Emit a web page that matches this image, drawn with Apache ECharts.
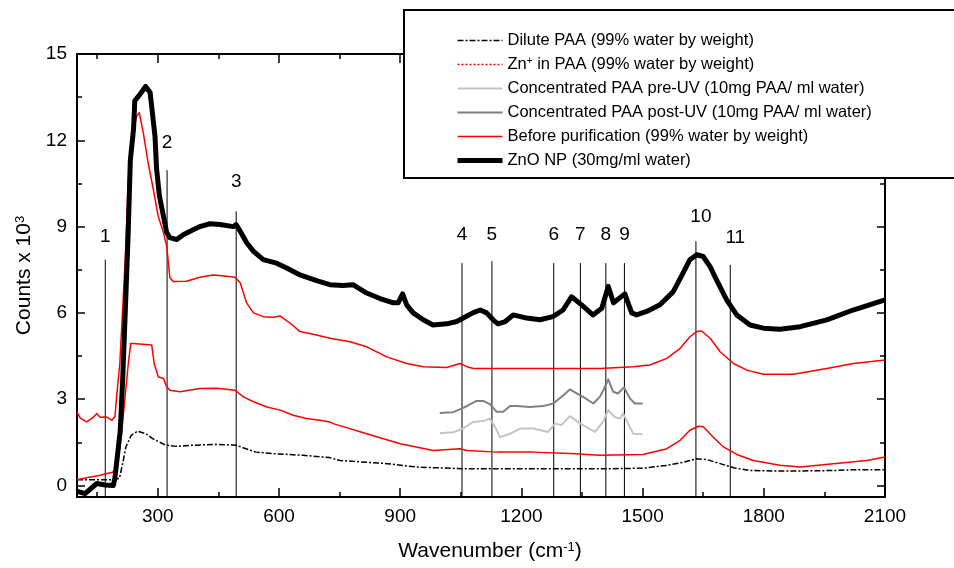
<!DOCTYPE html>
<html>
<head>
<meta charset="utf-8">
<script src="https://cdn.jsdelivr.net/npm/echarts@6/dist/echarts.min.js"></script>
<style>html,body{margin:0;padding:0;background:#fff}#c{width:954px;height:568px}</style>
</head>
<body>
<div id="c"></div>
<script>
// ---- data ----
const xMin = 100, xMax = 2100, yMin = -0.4, yMax = 15;
const xMajorTicks = [300, 600, 900, 1200, 1500, 1800, 2100];
const xMinorTicks = [150, 450, 750, 1050, 1350, 1650, 1950];
const yMajorTicks = [0, 3, 6, 9, 12, 15];
const yMinorTicks = [1.5, 4.5, 7.5, 10.5, 13.5];

const seriesNames = [
  'Dilute PAA (99% water by weight)',
  'Zn+ in PAA (99% water by weight)',
  'Concentrated PAA pre-UV (10mg PAA/ ml water)',
  'Concentrated PAA post-UV (10mg PAA/ ml water)',
  'Before purification (99% water by weight)',
  'ZnO NP (30mg/ml water)'
];

const diluteX = [100,188,205,213,221,234,250,271,287,304,320,345,386,444,494,518,543,593,659,725,751,867,941,1065,1229,1395,1501,1560,1601,1634,1659,1692,1725,1766,1848,1972,2022,2100];
const diluteY = [0.2,0.2,0.25,0.76,1.34,1.74,1.89,1.8,1.63,1.51,1.4,1.36,1.4,1.43,1.4,1.28,1.16,1.1,1.05,0.97,0.87,0.76,0.64,0.58,0.58,0.58,0.6,0.7,0.81,0.93,0.9,0.76,0.62,0.52,0.5,0.52,0.55,0.55];

const znX = [100,130,155,172,188,200,211,219,227,233,239,285,291,301,314,322,330,355,404,446,491,512,537,570,603,635,668,701,726,734,817,900,982,1048,1065,1139,1229,1337,1362,1395,1501,1560,1593,1617,1638,1650,1675,1700,1733,1774,1840,1890,1972,2055,2100];
const znY = [0.2,0.29,0.35,0.41,0.46,0.64,1.92,3.08,4.24,4.94,4.94,4.88,4.24,3.78,3.72,3.43,3.31,3.26,3.37,3.38,3.31,3.08,2.91,2.73,2.62,2.44,2.33,2.27,2.21,2.15,1.8,1.45,1.22,1.28,1.22,1.16,1.16,1.1,1.08,1.05,1.08,1.28,1.57,1.92,2.06,2.04,1.68,1.34,1.08,0.87,0.7,0.64,0.76,0.87,0.99];

const preX = [998,1031,1056,1081,1106,1122,1135,1147,1172,1197,1229,1266,1283,1299,1320,1340,1361,1382,1402,1415,1431,1444,1452,1464,1477,1500];
const preY = [1.82,1.85,1.98,2.21,2.24,2.33,2.03,1.68,1.8,1.98,1.98,1.86,2.15,2.1,2.41,2.21,2.03,1.86,2.21,2.62,2.38,2.33,2.5,2.15,1.8,1.78];

const postX = [998,1031,1052,1069,1089,1106,1122,1139,1155,1172,1188,1221,1254,1279,1304,1320,1337,1353,1378,1394,1404,1415,1427,1439,1454,1469,1481,1500];
const postY = [2.52,2.55,2.67,2.79,2.94,2.94,2.83,2.56,2.56,2.76,2.76,2.73,2.76,2.85,3.14,3.34,3.2,3.08,2.85,3.08,3.34,3.69,3.26,3.2,3.41,3.02,2.85,2.85];

const beforeX = [100,108,124,141,149,157,174,186,194,198,206,219,227,235,248,254,264,276,289,301,314,322,330,338,371,404,437,470,491,504,520,537,561,586,603,628,652,693,726,776,817,867,916,957,1015,1048,1065,1081,1200,1300,1395,1477,1518,1560,1593,1617,1634,1646,1667,1692,1725,1758,1799,1873,1956,2022,2100];
const beforeY = [2.56,2.34,2.21,2.38,2.5,2.37,2.38,2.27,2.4,3.08,4.25,7.74,10.64,12.03,12.85,12.96,12.27,11.22,10.29,9.36,8.79,8.31,7.22,7.09,7.1,7.24,7.32,7.27,7.24,7.05,6.34,6.0,5.87,5.85,5.89,5.64,5.35,5.23,5.12,5.0,4.82,4.47,4.24,4.13,4.1,4.24,4.13,4.07,4.07,4.07,4.07,4.13,4.19,4.42,4.77,5.17,5.35,5.37,5.12,4.65,4.24,4.01,3.87,3.87,4.07,4.24,4.36];

const znoX = [100,120,149,170,190,194,207,213,221,227,232,240,243,256,270,281,293,297,304,314,322,330,347,363,380,404,429,454,487,494,504,520,537,561,594,619,652,693,726,758,783,817,850,883,895,906,916,932,957,981,1015,1040,1056,1081,1098,1114,1130,1142,1160,1180,1213,1246,1278,1303,1324,1349,1377,1399,1415,1428,1456,1473,1485,1510,1543,1576,1600,1617,1634,1650,1667,1683,1708,1733,1766,1799,1840,1890,1956,2021,2100];
const znoY = [-0.2,-0.28,0.07,0.02,0.0,0.28,1.9,3.66,6.6,8.9,11.3,12.4,13.37,13.6,13.87,13.66,12.15,11.0,10.06,9.36,8.79,8.62,8.55,8.72,8.84,9.0,9.1,9.07,9.0,9.07,8.84,8.44,8.14,7.85,7.73,7.56,7.32,7.12,6.98,6.95,6.98,6.69,6.5,6.35,6.35,6.66,6.28,6.0,5.76,5.58,5.62,5.7,5.82,6.01,6.1,6.0,5.76,5.62,5.7,5.93,5.82,5.76,5.87,6.1,6.56,6.28,5.93,6.16,6.92,6.35,6.66,6.0,5.93,6.05,6.28,6.74,7.38,7.85,8.02,7.96,7.61,7.15,6.45,5.93,5.58,5.47,5.43,5.52,5.76,6.1,6.45];

const markerX = [170, 323, 494, 1053, 1127, 1280, 1346, 1409, 1455, 1632, 1717];
const markerTop = [7.85, 10.96, 9.53, 7.73, 7.8, 7.73, 7.73, 7.73, 7.73, 8.49, 7.67];
const markerLabels = ['1','2','3','4','5','6','7','8','9','10','11'];
const markerLabelY = [8.65, 11.93, 10.57, 8.72, 8.72, 8.72, 8.72, 8.72, 8.72, 9.35, 8.62];

// ---- styles ----
const FONT = 'Liberation Sans, Arial, sans-serif';
const zip = (xs, ys) => xs.map((x, i) => [x, ys[i]]);
const styles = [
  { color: '#000000', width: 1.5, type: [6, 2, 2, 2] },
  { color: '#ff0000', width: 1.5, type: 'solid', legendType: [2, 2] },
  { color: '#c4c4c4', width: 2, type: 'solid' },
  { color: '#808080', width: 2, type: 'solid' },
  { color: '#ff0000', width: 1.5, type: 'solid' },
  { color: '#000000', width: 5, type: 'solid' }
];
const seriesData = [zip(diluteX, diluteY), zip(znX, znY), zip(preX, preY), zip(postX, postY), zip(beforeX, beforeY), zip(znoX, znoY)];

const series = [];
markerX.forEach((x, i) => {
  series.push({
    type: 'line', name: 'marker' + markerLabels[i], silent: true,
    data: [[x, markerTop[i]], [x, yMin]],
    symbol: 'none', lineStyle: { color: '#000', width: 1 }, z: 1
  });
});
series.push({
  type: 'scatter', name: 'markerLabels', silent: true,
  symbolSize: 0, itemStyle: { color: '#000', opacity: 1 },
  data: markerX.map((x, i) => ({ value: [x, markerLabelY[i]], name: markerLabels[i],
    label: { offset: [i >= 9 ? 5 : 0, 0] } })),
  label: { show: true, position: 'inside', formatter: p => p.name, color: '#000', opacity: 1, textBorderWidth: 0, fontSize: 19, fontFamily: FONT },
  z: 5
});
seriesNames.forEach((n, i) => {
  series.push({
    type: 'line', name: n, data: seriesData[i], symbol: 'none', showSymbol: false,
    lineStyle: { color: styles[i].color, width: styles[i].width, type: styles[i].type, join: 'round' },
    itemStyle: { color: styles[i].color },
    z: 2 + i * 0.1
  });
});

const axisLineStyle = { lineStyle: { color: '#000', width: 2 } };
const plain = v => String(v);
function xAxis(pos, ticks, len, labels) {
  return {
    type: 'value', position: pos, min: xMin, max: xMax, gridIndex: 0,
    axisLine: { show: !!labels || (pos === 'top' && len > 6), onZero: false, ...axisLineStyle },
    axisTick: { show: true, inside: true, length: len, customValues: ticks, lineStyle: { color: '#000', width: 1.5 } },
    axisLabel: labels ? { show: true, customValues: ticks, formatter: plain, fontSize: 19, fontFamily: FONT, color: '#000', margin: 10 } : { show: false },
    splitLine: { show: false }
  };
}
function yAxis(pos, ticks, len, labels) {
  return {
    type: 'value', position: pos, min: yMin, max: yMax, gridIndex: 0,
    axisLine: { show: !!labels || (pos === 'right' && len > 6), onZero: false, ...axisLineStyle },
    axisTick: { show: true, inside: true, length: len, customValues: ticks, lineStyle: { color: '#000', width: 1.5 } },
    axisLabel: labels ? { show: true, customValues: ticks, formatter: plain, fontSize: 19, fontFamily: FONT, color: '#000', margin: 10 } : { show: false },
    splitLine: { show: false }
  };
}
const xAxes = [xAxis('bottom', xMajorTicks, 9, true), xAxis('bottom', xMinorTicks, 5, false), xAxis('top', xMajorTicks, 9, false), xAxis('top', xMinorTicks, 5, false)];
xAxes[0].name = 'Wavenumber (cm{sup|-1})';
xAxes[0].nameLocation = 'middle';
xAxes[0].nameGap = 44;
xAxes[0].nameTextStyle = { fontSize: 21, fontFamily: FONT, color: '#000', padding: [0, 0, 0, 18],
  rich: { sup: { fontSize: 13, fontFamily: FONT, verticalAlign: 'top', color: '#000' } } };
const yAxes = [yAxis('left', yMajorTicks, 8, true), yAxis('left', yMinorTicks, 5, false), yAxis('right', yMajorTicks, 8, false), yAxis('right', yMinorTicks, 5, false)];
yAxes[0].name = 'Counts x 10{sup|3}';
yAxes[0].nameLocation = 'middle';
yAxes[0].nameGap = 40;
yAxes[0].nameTextStyle = { fontSize: 21, fontFamily: FONT, color: '#000', rich: { sup: { fontSize: 13, fontFamily: FONT, verticalAlign: 'top', color: '#000' } } };

const chart = echarts.init(document.getElementById('c'), null, { renderer: 'canvas' });
chart.setOption({
  animation: false,
  backgroundColor: '#fff',
  grid: { left: 77, right: 69, top: 54, bottom: 71, containLabel: false },
  xAxis: xAxes,
  yAxis: yAxes,
  legend: {
    orient: 'vertical', left: 455, top: 32, padding: 0,
    itemWidth: 45, itemHeight: 16, itemGap: 7,
    selectedMode: false,
    data: seriesNames.map((n, i) => ({
      name: n,
      itemStyle: { opacity: 0, color: 'transparent', borderWidth: 0 },
      lineStyle: { color: styles[i].color, width: styles[i].width, type: styles[i].legendType || styles[i].type }
    })),
    formatter: n => n.replace('Zn+', 'Zn{sup|+}'),
    textStyle: { fontSize: 16.5, fontFamily: FONT, color: '#000',
      rich: { sup: { fontSize: 10, fontFamily: FONT, verticalAlign: 'top', color: '#000' } } },
    z: 10
  },
  graphic: [{
    type: 'rect', z: 8, silent: true,
    shape: { x: 404, y: 10, width: 600, height: 168 },
    style: { fill: '#fff', stroke: '#000', lineWidth: 2 }
  }],
  series: series
});
</script>
</body>
</html>
